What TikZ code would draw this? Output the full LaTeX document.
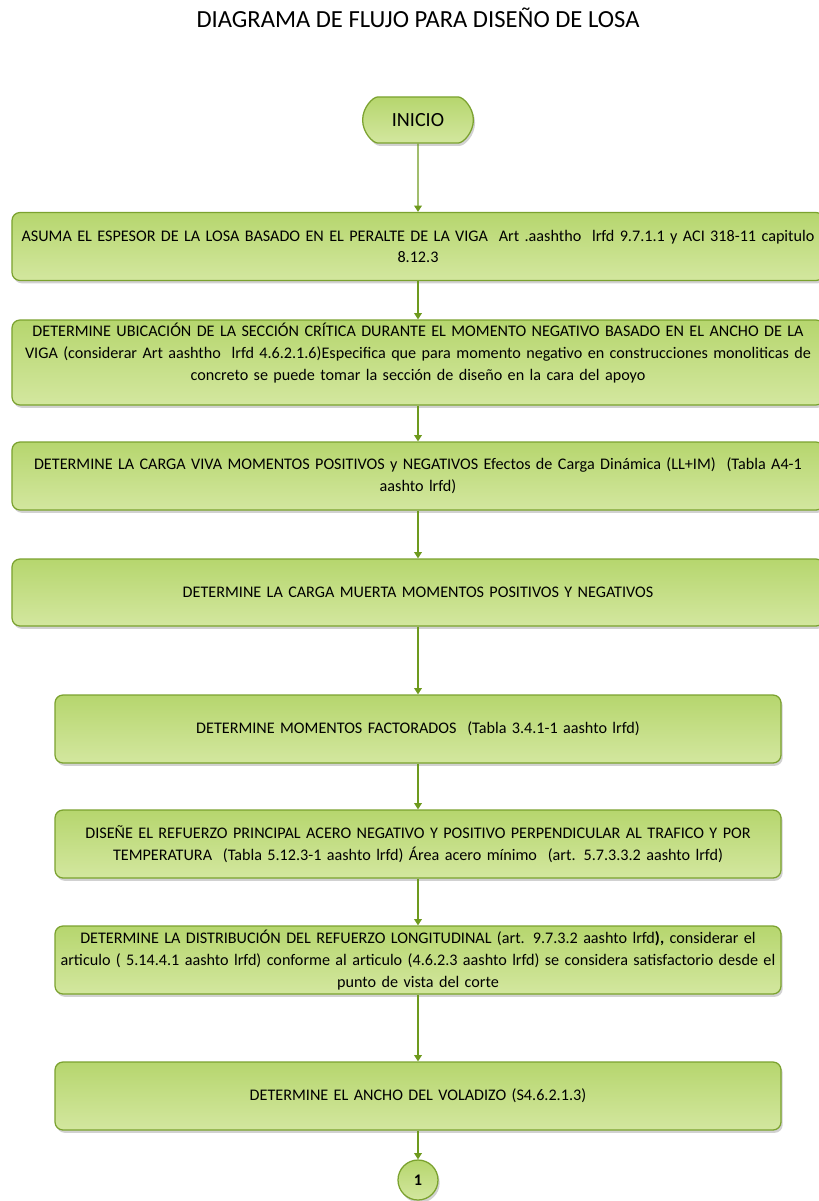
\documentclass[tikz,border=0pt]{standalone}
\usepackage{fontspec}
\setmainfont{Carlito}
\usetikzlibrary{shapes,shadows,arrows.meta}
\definecolor{verdeborde}{HTML}{7BA22F}
\definecolor{verdearriba}{HTML}{B6D66E}
\definecolor{verdeabajo}{HTML}{D3E79F}
\definecolor{verdeflecha}{HTML}{6E9A1E}

\tikzset{
  caja/.style={draw=verdeborde, line width=0.9pt, rounded corners=0.2cm,
    top color=verdearriba, bottom color=verdeabajo,
    drop shadow={shadow xshift=1.2pt, shadow yshift=-2pt, fill=black!30, opacity=.6},
    align=center, inner xsep=0pt, inner ysep=2pt,
    font=\fontsize{11.5}{15.5}\selectfont, minimum height=1.7cm},
  ancha/.style={caja, text width=20.3cm},
  estrecha/.style={caja, text width=18.15cm},
  flecha/.style={draw=verdeflecha, line width=0.9pt, -{Triangle[width=5.5pt,length=4.5pt]}},
}

\begin{document}
\begin{tikzpicture}
\useasboundingbox (0,0) rectangle (20.475,-30.025);
\clip (0,0) rectangle (20.475,-30.025);
% Titulo
\node (titulo) at (10.45,-0.45) {\fontsize{17.5}{21}\selectfont DIAGRAMA DE FLUJO PARA DISEÑO DE LOSA};
% Inicio
\node[caja, rounded rectangle, minimum width=3.05cm, minimum height=1.15cm, inner xsep=4pt, font=\fontsize{14.3}{16}\selectfont]
  (inicio) at (10.45,-3.0) {INICIO};
% Pasos del diseno
\node[ancha] (espesor) at (10.45,-6.1625) {ASUMA EL ESPESOR DE LA LOSA BASADO EN EL PERALTE DE LA VIGA\ \ Art .aashtho\ \ lrfd 9.7.1.1 y ACI 318-11 capitulo\\ 8.12.3};
\node[ancha, minimum height=2.125cm] (seccion) at (10.45,-9.0625) {DETERMINE UBICACIÓN DE LA SECCIÓN CRÍTICA DURANTE EL MOMENTO NEGATIVO BASADO EN EL ANCHO DE LA\\ VIGA (considerar Art aashtho\ \ lrfd 4.6.2.1.6)Especifica que para momento negativo en construcciones monoliticas de\\ concreto se puede tomar la sección de diseño en la cara del apoyo\\ \mbox{}};
\node[ancha] (cargaviva) at (10.45,-11.9) {DETERMINE LA CARGA VIVA MOMENTOS POSITIVOS y NEGATIVOS Efectos de Carga Dinámica (LL+IM)\ \ (Tabla A4-1\\ aashto lrfd)};
\node[ancha, minimum height=1.675cm] (cargamuerta) at (10.45,-14.8125) {DETERMINE LA CARGA MUERTA MOMENTOS POSITIVOS Y NEGATIVOS};
\node[estrecha] (factorados) at (10.45,-18.225) {DETERMINE MOMENTOS FACTORADOS\ \ (Tabla 3.4.1-1 aashto lrfd)};
\node[estrecha] (refuerzo) at (10.45,-21.1) {DISEÑE EL REFUERZO PRINCIPAL ACERO NEGATIVO Y POSITIVO PERPENDICULAR AL TRAFICO Y POR\\ TEMPERATURA\ \ (Tabla 5.12.3-1 aashto lrfd) Área acero mínimo\ \ (art. 5.7.3.3.2 aashto lrfd)};
\node[estrecha] (distribucion) at (10.45,-24.0) {DETERMINE LA DISTRIBUCIÓN DEL REFUERZO LONGITUDINAL (art. 9.7.3.2 aashto lrfd\textbf{),} considerar el\\ articulo ( 5.14.4.1 aashto lrfd) conforme al articulo (4.6.2.3 aashto lrfd) se considera satisfactorio desde el\\ punto de vista del corte};
\node[estrecha] (voladizo) at (10.45,-27.4) {DETERMINE EL ANCHO DEL VOLADIZO (S4.6.2.1.3)};
% Conector
\node[caja, circle, minimum size=1cm, inner sep=0pt, text width=, font=\fontsize{11.5}{13}\selectfont\bfseries] (conector) at (10.45,-29.5) {1};
% Flechas
\draw[flecha] (inicio) -- (espesor);
\draw[flecha] (espesor) -- (seccion);
\draw[flecha] (seccion) -- (cargaviva);
\draw[flecha] (cargaviva) -- (cargamuerta);
\draw[flecha] (cargamuerta) -- (factorados);
\draw[flecha] (factorados) -- (refuerzo);
\draw[flecha] (refuerzo) -- (distribucion);
\draw[flecha] (distribucion) -- (voladizo);
\draw[flecha] (voladizo) -- (conector);
\end{tikzpicture}
\end{document}
